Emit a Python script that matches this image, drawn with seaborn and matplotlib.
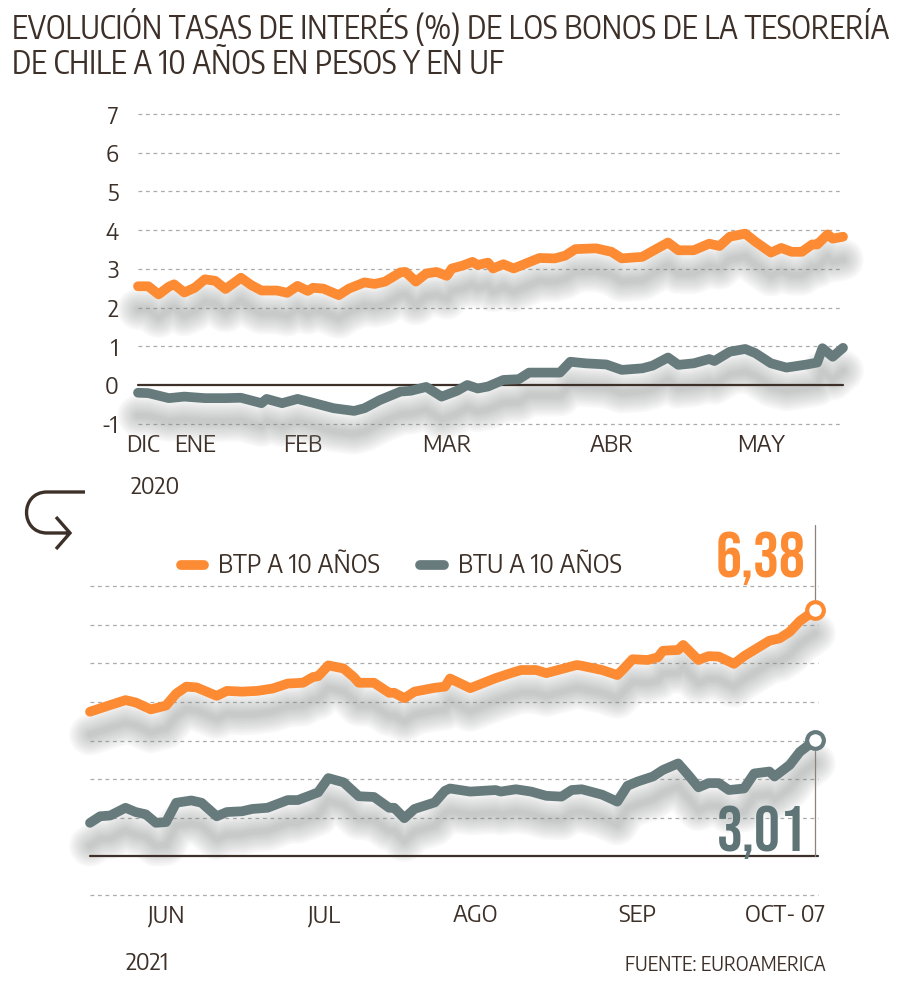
import numpy as np
import pandas as pd
import matplotlib
matplotlib.use("Agg")
import matplotlib.pyplot as plt
from matplotlib import transforms, font_manager
from matplotlib.font_manager import FontProperties
from matplotlib.path import Path
from matplotlib.patches import PathPatch
from matplotlib.lines import Line2D
import seaborn as sns

# ---------------- data ----------------
series_names = ["BTP A 10 AÑOS", "BTU A 10 AÑOS"]

top_btp_dates = ["2020-12-31","2021-01-02","2021-01-04","2021-01-06","2021-01-07","2021-01-09","2021-01-11",
                 "2021-01-13","2021-01-15","2021-01-17","2021-01-19","2021-01-20","2021-01-22","2021-01-24",
                 "2021-01-27","2021-01-29","2021-01-31","2021-02-02","2021-02-03","2021-02-05","2021-02-08",
                 "2021-02-10","2021-02-13","2021-02-15","2021-02-17","2021-02-20","2021-02-21","2021-02-23",
                 "2021-02-25","2021-02-27","2021-03-01","2021-03-02","2021-03-04","2021-03-06","2021-03-07",
                 "2021-03-09","2021-03-10","2021-03-12","2021-03-14","2021-03-19","2021-03-22","2021-03-24",
                 "2021-03-26","2021-03-30","2021-04-02","2021-04-04","2021-04-08","2021-04-10","2021-04-13",
                 "2021-04-15","2021-04-18","2021-04-21","2021-04-23","2021-04-25","2021-04-28","2021-04-30",
                 "2021-05-03","2021-05-05","2021-05-07","2021-05-09","2021-05-11","2021-05-12","2021-05-14",
                 "2021-05-15","2021-05-17"]
top_btp = [2.55,2.55,2.34,2.54,2.60,2.39,2.51,2.73,2.69,2.48,2.67,2.77,2.58,2.44,2.44,2.38,2.56,2.43,2.51,2.49,
           2.32,2.49,2.65,2.61,2.67,2.91,2.92,2.67,2.88,2.92,2.82,3.01,3.08,3.18,3.10,3.16,3.01,3.12,3.01,3.28,
           3.27,3.34,3.51,3.53,3.44,3.27,3.31,3.46,3.68,3.48,3.48,3.65,3.59,3.83,3.91,3.70,3.42,3.54,3.44,3.44,
           3.63,3.63,3.89,3.78,3.83]

top_btu_dates = ["2020-12-31","2021-01-02","2021-01-06","2021-01-09","2021-01-13","2021-01-17","2021-01-20",
                 "2021-01-24","2021-01-25","2021-01-28","2021-01-31","2021-02-03","2021-02-07","2021-02-11",
                 "2021-02-13","2021-02-16","2021-02-20","2021-02-22","2021-02-25","2021-02-28","2021-03-03",
                 "2021-03-05","2021-03-07","2021-03-09","2021-03-12","2021-03-15","2021-03-17","2021-03-23",
                 "2021-03-25","2021-03-28","2021-04-01","2021-04-04","2021-04-08","2021-04-10","2021-04-13",
                 "2021-04-15","2021-04-18","2021-04-21","2021-04-22","2021-04-25","2021-04-28","2021-04-30",
                 "2021-05-03","2021-05-06","2021-05-08","2021-05-10","2021-05-12","2021-05-13","2021-05-15",
                 "2021-05-17"]
top_btu = [-0.20,-0.21,-0.34,-0.30,-0.34,-0.34,-0.33,-0.47,-0.36,-0.47,-0.36,-0.46,-0.60,-0.67,-0.60,-0.39,
           -0.17,-0.15,-0.05,-0.30,-0.15,0.00,-0.09,-0.04,0.13,0.15,0.32,0.32,0.60,0.56,0.53,0.39,0.43,0.50,
           0.71,0.52,0.56,0.67,0.62,0.86,0.93,0.82,0.56,0.45,0.49,0.53,0.58,0.95,0.73,0.96]

bot_btp_dates = ["2021-05-17","2021-05-20","2021-05-24","2021-05-26","2021-05-29","2021-06-01","2021-06-03",
                 "2021-06-05","2021-06-07","2021-06-11","2021-06-13","2021-06-16","2021-06-19","2021-06-22",
                 "2021-06-25","2021-06-28","2021-06-30","2021-07-01","2021-07-03","2021-07-06","2021-07-08",
                 "2021-07-09","2021-07-12","2021-07-15","2021-07-16","2021-07-18","2021-07-20","2021-07-24",
                 "2021-07-26","2021-07-27","2021-07-31","2021-08-05","2021-08-08","2021-08-10","2021-08-13",
                 "2021-08-15","2021-08-17","2021-08-21","2021-08-22","2021-08-26","2021-08-29","2021-08-30",
                 "2021-09-01","2021-09-04","2021-09-06","2021-09-07","2021-09-10","2021-09-11","2021-09-14",
                 "2021-09-16","2021-09-18","2021-09-21","2021-09-23","2021-09-26","2021-09-28","2021-09-30",
                 "2021-10-02","2021-10-04","2021-10-07"]
bot_btp = [3.75,3.88,4.05,3.99,3.81,3.91,4.22,4.40,4.38,4.16,4.29,4.27,4.29,4.35,4.48,4.50,4.65,4.67,4.95,4.87,
           4.65,4.50,4.50,4.24,4.24,4.10,4.27,4.37,4.40,4.61,4.36,4.62,4.75,4.83,4.83,4.75,4.82,4.96,4.94,4.83,
           4.70,4.83,5.11,5.09,5.16,5.33,5.35,5.48,5.09,5.19,5.18,4.99,5.19,5.43,5.59,5.65,5.82,6.10,6.38]

bot_btu_dates = ["2021-05-17","2021-05-19","2021-05-21","2021-05-24","2021-05-26","2021-05-28","2021-05-30",
                 "2021-06-01","2021-06-03","2021-06-06","2021-06-08","2021-06-11","2021-06-13","2021-06-16",
                 "2021-06-18","2021-06-21","2021-06-25","2021-06-27","2021-07-01","2021-07-03","2021-07-06",
                 "2021-07-09","2021-07-12","2021-07-15","2021-07-16","2021-07-18","2021-07-20","2021-07-24",
                 "2021-07-26","2021-07-27","2021-07-31","2021-08-05","2021-08-06","2021-08-09","2021-08-12",
                 "2021-08-15","2021-08-18","2021-08-20","2021-08-22","2021-08-26","2021-08-29","2021-08-31",
                 "2021-09-02","2021-09-05","2021-09-07","2021-09-10","2021-09-12","2021-09-14","2021-09-16",
                 "2021-09-18","2021-09-20","2021-09-23","2021-09-25","2021-09-28","2021-09-29","2021-10-02",
                 "2021-10-04","2021-10-07"]
bot_btu = [0.87,1.04,1.06,1.26,1.15,1.09,0.87,0.89,1.39,1.45,1.39,1.04,1.15,1.17,1.23,1.26,1.46,1.46,1.66,2.03,
           1.92,1.56,1.54,1.26,1.26,0.99,1.23,1.40,1.70,1.76,1.68,1.72,1.68,1.74,1.68,1.57,1.55,1.72,1.74,1.60,
           1.42,1.83,1.94,2.07,2.24,2.41,2.11,1.79,1.90,1.90,1.72,1.76,2.15,2.20,2.07,2.37,2.71,3.01]

top_tick_dates = ["2021-01-01", "2021-01-11", "2021-02-01", "2021-03-01", "2021-04-02", "2021-05-01"]
top_tick_labels = ["DIC", "ENE", "FEB", "MAR", "ABR", "MAY"]
bot_tick_dates = ["2021-06-01", "2021-07-02", "2021-08-01", "2021-09-02", "2021-10-01"]
bot_tick_labels = ["JUN", "JUL", "AGO", "SEP", "OCT- 07"]
y_values = [-1, 0, 1, 2, 3, 4, 5, 6, 7]
year_labels = ["2020", "2021"]
end_labels = ["6,38", "3,01"]
title_lines = ["EVOLUCIÓN TASAS DE INTERÉS (%) DE LOS BONOS DE LA TESORERÍA",
               "DE CHILE A 10 AÑOS EN PESOS Y EN UF"]
source_text = "FUENTE: EUROAMERICA"

# ---------------- style ----------------
ORANGE = "#fc8b33"
GRAY = "#677b7d"
GRAY_TXT = "#5f7477"
DARK = "#3d3028"
GRID = "#ababab"

sns.set_theme(style="white")

fam_names = {f.name for f in font_manager.fontManager.ttflist}


def pick(prefs):
    for p in prefs:
        if p in fam_names:
            return p
    return "DejaVu Sans"


TITLE_F = pick(["Encode Sans Condensed", "Barlow Semi Condensed", "Roboto Condensed", "Roboto"])
TXT = pick(["Encode Sans Semi Condensed", "Encode Sans Condensed", "Barlow Semi Condensed",
            "Roboto Condensed", "Roboto"])
NUM = pick(["Bebas Neue", "Oswald", "League Gothic", "Roboto Condensed", "Roboto"])
NUM_W = "normal" if NUM == "Bebas Neue" else "bold"
plt.rcParams["font.family"] = [TXT, "DejaVu Sans"]


def fp(size, weight="normal", family=None):
    return FontProperties(family=[family or TXT, "DejaVu Sans"], size=size, weight=weight)


W, H = 900, 984
fig = plt.figure(figsize=(W / 100, H / 100), dpi=100)
fig.patch.set_facecolor("white")


def fx(px):
    return px / W


def fy(py):
    return 1 - py / H


def axes_at(left, right, top, bottom):
    return fig.add_axes([fx(left), fy(bottom), (right - left) / W, (bottom - top) / H])


ax_top = axes_at(138, 843, 114, 423.7)
ax_bot = axes_at(90, 818, 586.3, 895)

df_top = pd.concat([
    pd.DataFrame({"fecha": pd.to_datetime(top_btp_dates), "tasa": top_btp, "serie": series_names[0]}),
    pd.DataFrame({"fecha": pd.to_datetime(top_btu_dates), "tasa": top_btu, "serie": series_names[1]}),
])
df_bot = pd.concat([
    pd.DataFrame({"fecha": pd.to_datetime(bot_btp_dates), "tasa": bot_btp, "serie": series_names[0]}),
    pd.DataFrame({"fecha": pd.to_datetime(bot_btu_dates), "tasa": bot_btu, "serie": series_names[1]}),
])
palette = {series_names[0]: ORANGE, series_names[1]: GRAY}

shadow_layers = list(zip(np.linspace(30, 4, 12), [0.045] * 12))

for ax, df in ((ax_top, df_top), (ax_bot, df_bot)):
    ax.set_ylim(min(y_values), max(y_values))
    for s in ax.spines.values():
        s.set_visible(False)
    ax.set_facecolor("none")
    # dotted grid, solid zero line
    for v in y_values:
        if v == 0:
            ax.axhline(v, color=DARK, lw=1.6, zorder=2, clip_on=False)
        else:
            ax.axhline(v, color=GRID, lw=0.9, ls=(0, (3, 3)), zorder=0, clip_on=False)
    # soft blurred shadow under each line
    shadow = transforms.offset_copy(ax.transData, fig=fig, x=0, y=-23, units="dots")
    for name in series_names:
        sub = df[df["serie"] == name]
        for lw, a in shadow_layers:
            ax.plot(sub["fecha"], sub["tasa"], color="#868b8a", lw=lw, alpha=a,
                    solid_capstyle="round", solid_joinstyle="round",
                    transform=shadow, zorder=1, clip_on=False)
    sns.lineplot(data=df, x="fecha", y="tasa", hue="serie", palette=palette, estimator=None,
                 sort=True, lw=7.0, legend=False, ax=ax, zorder=3,
                 solid_capstyle="round", solid_joinstyle="round", clip_on=False)
    ax.set_xlabel("")
    ax.set_ylabel("")

ax_top.set_xlim(pd.Timestamp(top_btp_dates[0]), pd.Timestamp(top_btp_dates[-1]))
ax_bot.set_xlim(pd.Timestamp(bot_btp_dates[0]), pd.Timestamp(bot_btp_dates[-1]) + pd.Timedelta(hours=14))

# ticks
ax_top.set_yticks(y_values)
ax_top.set_yticklabels([str(v) for v in y_values])
ax_top.tick_params(axis="y", length=0, pad=14, colors=DARK)
ax_top.set_xticks(pd.to_datetime(top_tick_dates))
ax_top.set_xticklabels(top_tick_labels)
ax_top.tick_params(axis="x", length=0, pad=7, colors=DARK)
for lab in ax_top.get_yticklabels() + ax_top.get_xticklabels():
    lab.set_fontproperties(fp(17))

ax_bot.set_yticks(y_values)
ax_bot.set_yticklabels([])
ax_bot.tick_params(axis="y", length=0)
ax_bot.set_xticks(pd.to_datetime(bot_tick_dates))
ax_bot.set_xticklabels(bot_tick_labels)
ax_bot.tick_params(axis="x", length=0, pad=6, colors=DARK)
for lab in ax_bot.get_xticklabels():
    lab.set_fontproperties(fp(17))

# end markers and connectors
last_btp = pd.Timestamp(bot_btp_dates[-1])
last_btu = pd.Timestamp(bot_btu_dates[-1])
ax_bot.plot([last_btp, last_btp], [bot_btp[-1] + 0.27, 8.6], color="#8d837b", lw=0.9, zorder=2, clip_on=False)
ax_bot.plot([last_btu, last_btu], [0, bot_btu[-1] - 0.27], color="#8d837b", lw=0.9, zorder=2, clip_on=False)
ax_bot.plot([last_btp], [bot_btp[-1]], marker="o", ms=12, mfc="white", mec=ORANGE, mew=3,
            zorder=5, clip_on=False)
ax_bot.plot([last_btu], [bot_btu[-1]], marker="o", ms=12, mfc="white", mec=GRAY,
            mew=3, zorder=5, clip_on=False)

fig.canvas.draw()
renderer = fig.canvas.get_renderer()


def fit(txt, target):
    bb = txt.get_window_extent(renderer)
    if bb.width > target:
        txt.set_fontsize(txt.get_fontsize() * target / bb.width)


t638 = fig.text(fx(805), fy(577), end_labels[0], color=ORANGE, ha="right", va="baseline",
                fontproperties=fp(54, NUM_W, NUM))
fit(t638, 90)
t301 = fig.text(fx(807), fy(851), end_labels[1], color=GRAY_TXT, ha="right", va="baseline",
                fontproperties=fp(54, NUM_W, NUM), zorder=6)
fit(t301, 90)

# legend
handles = [Line2D([0], [0], color=ORANGE, lw=7, solid_capstyle="round"),
           Line2D([0], [0], color=GRAY, lw=7, solid_capstyle="round")]
leg = ax_bot.legend(handles, series_names, loc="center", bbox_to_anchor=(fx(401), fy(566)),
                    bbox_transform=fig.transFigure, ncol=2, frameon=False, handlelength=0.95,
                    handletextpad=0.55, columnspacing=1.6, prop=fp(18), labelcolor=DARK)

# titles and notes
tsize = None
for i, line in enumerate(title_lines):
    t = fig.text(fx(12), fy(27 + 37 * i), line, ha="left", va="center", color=DARK,
                 fontproperties=fp(25, family=TITLE_F))
    if i == 0:
        fit(t, 878)
        tsize = t.get_fontsize()
    else:
        t.set_fontsize(tsize)

fig.text(fx(155), fy(487), year_labels[0], ha="center", va="center", color=DARK, fontproperties=fp(17))
fig.text(fx(147), fy(963), year_labels[1], ha="center", va="center", color=DARK, fontproperties=fp(17))
src = fig.text(fx(826), fy(965), source_text, ha="right", va="center", color=DARK, fontproperties=fp(14))
fit(src, 201)

# hook arrow icon
pts = [(85, 492), (47, 492), (19.7, 492), (19.7, 533), (47, 533), (70, 533)]
codes = [Path.MOVETO, Path.LINETO, Path.CURVE4, Path.CURVE4, Path.CURVE4, Path.LINETO]
head = [(56, 517), (70, 533), (56, 549)]
hcodes = [Path.MOVETO, Path.LINETO, Path.LINETO]
verts = [(fx(x), fy(y)) for x, y in pts + head]
icon = PathPatch(Path(verts, codes + hcodes), fill=False, lw=2.4, edgecolor=DARK,
                 transform=fig.transFigure, capstyle="butt", joinstyle="miter")
fig.add_artist(icon)

fig.savefig("out.png", dpi=100)
